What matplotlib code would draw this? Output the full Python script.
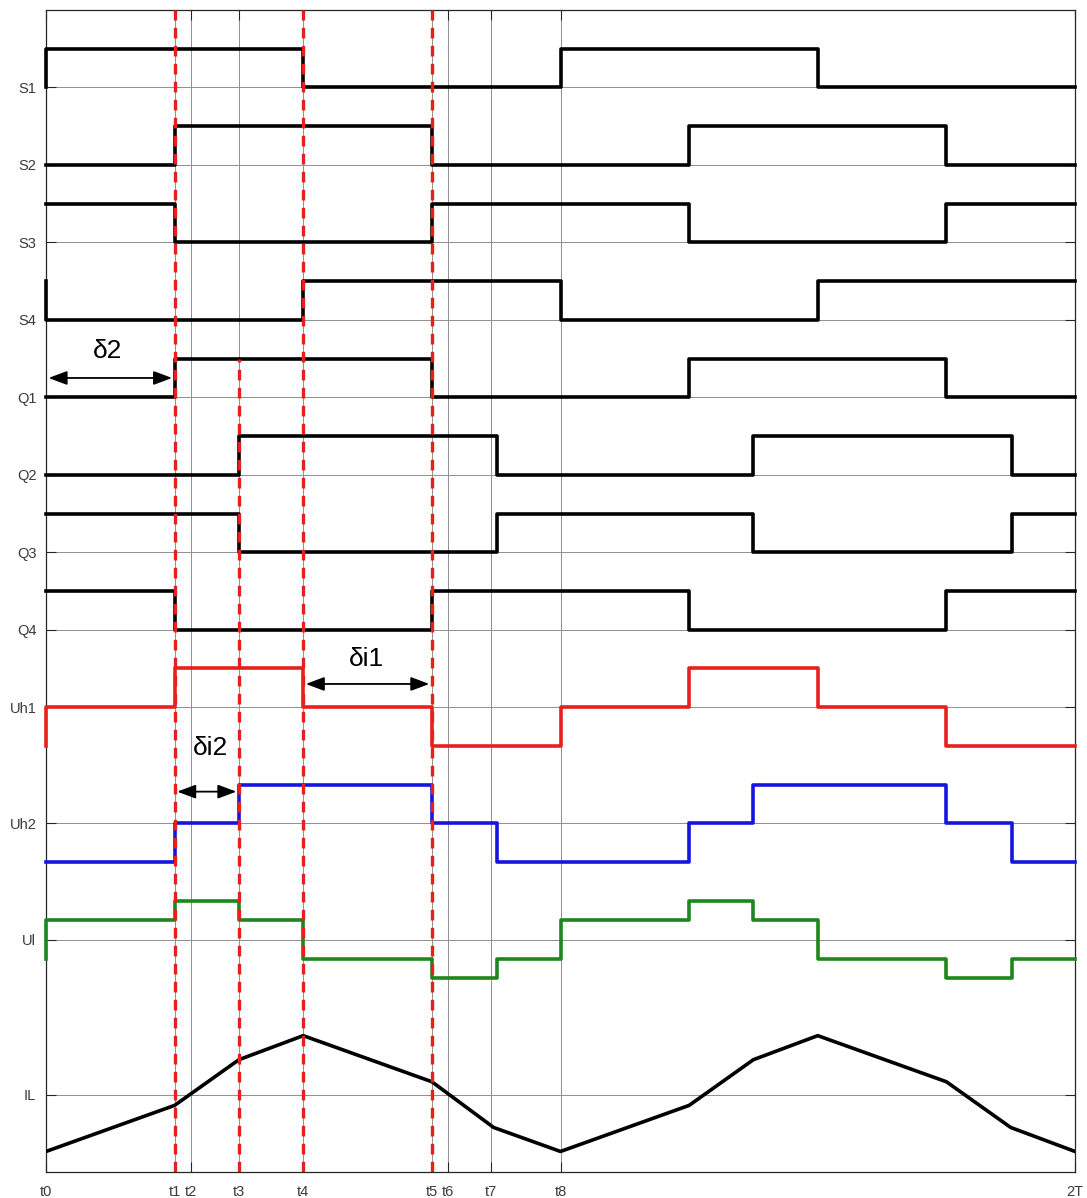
import numpy as np
import matplotlib
matplotlib.use('Agg')
import matplotlib.pyplot as plt

plt.rcParams['font.family'] = ['Liberation Sans', 'DejaVu Sans']

# switching instants in units of T, one level per segment between them
edges = [0, 0.25, 0.375, 0.5, 0.75, 0.877, 1.0, 1.25, 1.375, 1.5, 1.75, 1.877, 2.0]

S1 = [1, 1, 1, 0, 0, 0, 1, 1, 1, 0, 0, 0]
S2 = [0, 1, 1, 1, 0, 0, 0, 1, 1, 1, 0, 0]
S3 = [1, 0, 0, 0, 1, 1, 1, 0, 0, 0, 1, 1]
S4 = [0, 0, 0, 1, 1, 1, 0, 0, 0, 1, 1, 1]
Q1 = [0, 1, 1, 1, 0, 0, 0, 1, 1, 1, 0, 0]
Q2 = [0, 0, 1, 1, 1, 0, 0, 0, 1, 1, 1, 0]
Q3 = [1, 1, 0, 0, 0, 1, 1, 1, 0, 0, 0, 1]
Q4 = [1, 0, 0, 0, 1, 1, 1, 0, 0, 0, 1, 1]
Uh1 = [0, 1, 1, 0, -1, -1, 0, 1, 1, 0, -1, -1]
Uh2 = [-1, 0, 1, 1, 0, -1, -1, 0, 1, 1, 0, -1]
Ul = [0.5, 1, 0.5, -0.5, -1, -0.5, 0.5, 1, 0.5, -0.5, -1, -0.5]

# inductor current corner points
il_t = [0, 0.25, 0.375, 0.5, 0.75, 0.87, 1.0, 1.25, 1.375, 1.5, 1.75, 1.875, 2.0]
il_v = [-1.47, -0.28, 0.90, 1.52, 0.33, -0.85, -1.47, -0.28, 0.90, 1.52, 0.33, -0.85, -1.47]

tick_t = [0, 0.25, 0.282, 0.375, 0.5, 0.75, 0.781, 0.865, 1.0, 2.0]
tick_names = ['t0', 't1', 't2', 't3', 't4', 't5', 't6', 't7', 't8', '2T']

row_names = ['S1', 'S2', 'S3', 'S4', 'Q1', 'Q2', 'Q3', 'Q4', 'Uh1', 'Uh2', 'Ul', 'IL']
row_base = [28, 26, 24, 22, 20, 18, 16, 14, 12, 9, 6, 2]

RED = '#e8201c'
BLUE = '#1515e0'
GREEN = '#1e861e'


def step_xy(levels, base):
    # start with the level carried over from the previous period
    x = [edges[0]] + list(edges)
    y = [levels[-1]] + list(levels) + [levels[-1]]
    return x, base + np.array(y, dtype=float)


fig = plt.figure(figsize=(10.87, 11.98), dpi=100)
ax = fig.add_axes([46 / 1087, 26 / 1198, 1029 / 1087, 1162 / 1198])

signals = [(S1, 'black'), (S2, 'black'), (S3, 'black'), (S4, 'black'),
           (Q1, 'black'), (Q2, 'black'), (Q3, 'black'), (Q4, 'black'),
           (Uh1, RED), (Uh2, BLUE), (Ul, GREEN)]
for (levels, color), base in zip(signals, row_base):
    x, y = step_xy(levels, base)
    ax.plot(x, y, drawstyle='steps-post', color=color, lw=2.6, clip_on=False, zorder=3)

ax.plot(il_t, row_base[-1] + np.array(il_v), color='black', lw=2.6, zorder=3)

# red dashed markers
for t in [0.25, 0.5, 0.75]:
    ax.plot([t, t], [0, 30], color=RED, lw=2.4, ls=(0, (3.2, 2.2)), zorder=4)
ax.plot([0.375, 0.375], [0, 21], color=RED, lw=2.4, ls=(0, (3.2, 2.2)), zorder=4)

arrow = dict(arrowstyle='<|-|>,head_length=0.8,head_width=0.3', color='black', lw=1.3,
             mutation_scale=14, shrinkA=0, shrinkB=0)
ax.annotate('', xy=(0.005, 20.5), xytext=(0.245, 20.5), arrowprops=arrow, zorder=5)
ax.text(0.12, 21.2, 'δ2', fontsize=19, ha='center', va='center')
ax.annotate('', xy=(0.505, 12.6), xytext=(0.745, 12.6), arrowprops=arrow, zorder=5)
ax.text(0.622, 13.25, 'δi1', fontsize=19, ha='center', va='center')
ax.annotate('', xy=(0.255, 9.82), xytext=(0.37, 9.82), arrowprops=arrow, zorder=5)
ax.text(0.319, 10.95, 'δi2', fontsize=19, ha='center', va='center')

ax.set_xlim(0, 2)
ax.set_ylim(0, 30)
ax.set_xticks(tick_t)
ax.set_xticklabels(tick_names)
ax.set_yticks(row_base)
ax.set_yticklabels(row_names)
ax.tick_params(direction='in', length=7, width=0.8, color='#262626',
               labelsize=10.5, labelcolor='#3a3a3a', top=True, right=True)
ax.tick_params(axis='x', pad=9)
ax.tick_params(axis='y', pad=7)
ax.grid(True, color='#8f8f8f', lw=0.7)
ax.set_axisbelow(True)
for s in ax.spines.values():
    s.set_color('#262626')
    s.set_linewidth(0.9)

fig.savefig('out.png', dpi=100)
